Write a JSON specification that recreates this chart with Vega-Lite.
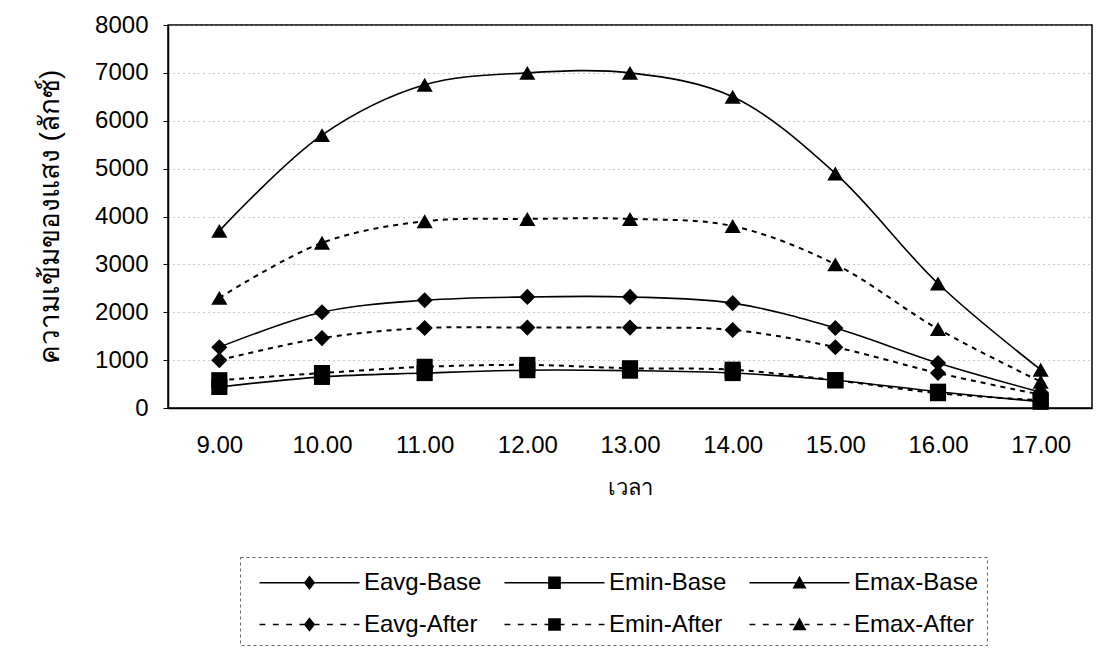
{
  "$schema": "https://vega.github.io/schema/vega-lite/v6.json",
  "width": 924,
  "height": 383,
  "autosize": {"type": "none"},
  "padding": {"left": 168, "top": 25, "right": 5, "bottom": 246},
  "background": "white",
  "config": {
    "view": {"stroke": "black", "strokeWidth": 1.5},
    "font": "Liberation Sans",
    "axis": {"labelFont": "Liberation Sans", "titleFont": "Liberation Sans", "labelColor": "black", "titleColor": "black", "domainColor": "black", "tickColor": "black", "titleFontWeight": "normal"},
    "legend": {"strokeDash": [3, 3]}
  },
  "data": {
    "values": [
      {"time": "9.00", "series": "Eavg-Base", "value": 1270},
      {"time": "10.00", "series": "Eavg-Base", "value": 2000},
      {"time": "11.00", "series": "Eavg-Base", "value": 2250},
      {"time": "12.00", "series": "Eavg-Base", "value": 2320},
      {"time": "13.00", "series": "Eavg-Base", "value": 2320},
      {"time": "14.00", "series": "Eavg-Base", "value": 2190},
      {"time": "15.00", "series": "Eavg-Base", "value": 1670},
      {"time": "16.00", "series": "Eavg-Base", "value": 940},
      {"time": "17.00", "series": "Eavg-Base", "value": 330},
      {"time": "9.00", "series": "Emin-Base", "value": 440},
      {"time": "10.00", "series": "Emin-Base", "value": 650},
      {"time": "11.00", "series": "Emin-Base", "value": 730},
      {"time": "12.00", "series": "Emin-Base", "value": 790},
      {"time": "13.00", "series": "Emin-Base", "value": 780},
      {"time": "14.00", "series": "Emin-Base", "value": 730},
      {"time": "15.00", "series": "Emin-Base", "value": 580},
      {"time": "16.00", "series": "Emin-Base", "value": 340},
      {"time": "17.00", "series": "Emin-Base", "value": 130},
      {"time": "9.00", "series": "Emax-Base", "value": 3700},
      {"time": "10.00", "series": "Emax-Base", "value": 5700},
      {"time": "11.00", "series": "Emax-Base", "value": 6750},
      {"time": "12.00", "series": "Emax-Base", "value": 7000},
      {"time": "13.00", "series": "Emax-Base", "value": 7000},
      {"time": "14.00", "series": "Emax-Base", "value": 6500},
      {"time": "15.00", "series": "Emax-Base", "value": 4900},
      {"time": "16.00", "series": "Emax-Base", "value": 2600},
      {"time": "17.00", "series": "Emax-Base", "value": 800},
      {"time": "9.00", "series": "Eavg-After", "value": 1000},
      {"time": "10.00", "series": "Eavg-After", "value": 1460},
      {"time": "11.00", "series": "Eavg-After", "value": 1670},
      {"time": "12.00", "series": "Eavg-After", "value": 1680},
      {"time": "13.00", "series": "Eavg-After", "value": 1680},
      {"time": "14.00", "series": "Eavg-After", "value": 1630},
      {"time": "15.00", "series": "Eavg-After", "value": 1270},
      {"time": "16.00", "series": "Eavg-After", "value": 730},
      {"time": "17.00", "series": "Eavg-After", "value": 280},
      {"time": "9.00", "series": "Emin-After", "value": 580},
      {"time": "10.00", "series": "Emin-After", "value": 730},
      {"time": "11.00", "series": "Emin-After", "value": 860},
      {"time": "12.00", "series": "Emin-After", "value": 900},
      {"time": "13.00", "series": "Emin-After", "value": 830},
      {"time": "14.00", "series": "Emin-After", "value": 800},
      {"time": "15.00", "series": "Emin-After", "value": 580},
      {"time": "16.00", "series": "Emin-After", "value": 310},
      {"time": "17.00", "series": "Emin-After", "value": 160},
      {"time": "9.00", "series": "Emax-After", "value": 2300},
      {"time": "10.00", "series": "Emax-After", "value": 3450},
      {"time": "11.00", "series": "Emax-After", "value": 3900},
      {"time": "12.00", "series": "Emax-After", "value": 3950},
      {"time": "13.00", "series": "Emax-After", "value": 3950},
      {"time": "14.00", "series": "Emax-After", "value": 3800},
      {"time": "15.00", "series": "Emax-After", "value": 3000},
      {"time": "16.00", "series": "Emax-After", "value": 1650},
      {"time": "17.00", "series": "Emax-After", "value": 550}
    ]
  },
  "encoding": {
    "x": {
      "field": "time", "type": "ordinal",
      "sort": ["9.00","10.00","11.00","12.00","13.00","14.00","15.00","16.00","17.00"],
      "scale": {"type": "point", "padding": 0.5},
      "axis": {"title": "เวลา", "labelAngle": 0, "labelFontSize": 24, "labelPadding": 25, "ticks": false, "titleFontSize": 22, "titlePadding": 20, "domainWidth": 1.5, "grid": false}
    },
    "y": {
      "field": "value", "type": "quantitative",
      "scale": {"domain": [0, 8000], "nice": false},
      "axis": {"title": "ความเข้มของแสง (ลักซ์)", "values": [0,1000,2000,3000,4000,5000,6000,7000,8000], "format": "d", "labelFontSize": 24, "labelPadding": 15, "tickSize": 5, "titleFontSize": 28, "titlePadding": 30, "grid": true, "gridColor": "#999", "gridDash": [1, 4], "gridWidth": 1, "domainWidth": 1.5}
    }
  },
  "resolve": {"scale": {"shape": "independent"}, "legend": {"shape": "independent"}},
  "layer": [
    {
      "transform": [{"filter": "indexof(datum.series, 'Base') >= 0"}],
      "mark": {"type": "line", "interpolate": "catmull-rom", "color": "black", "strokeWidth": 1.6},
      "encoding": {"detail": {"field": "series"}}
    },
    {
      "transform": [{"filter": "indexof(datum.series, 'After') >= 0"}],
      "mark": {"type": "line", "interpolate": "catmull-rom", "color": "black", "strokeWidth": 2, "strokeDash": [5, 5]},
      "encoding": {"detail": {"field": "series"}}
    },
    {
      "mark": {"type": "point", "filled": true, "color": "black", "opacity": 1, "size": 260},
      "encoding": {
        "shape": {
          "field": "series", "type": "nominal",
          "scale": {"domain": ["Eavg-Base","Emin-Base","Emax-Base","Eavg-After","Emin-After","Emax-After"], "range": ["diamond","square","triangle-up","diamond","square","triangle-up"]},
          "legend": null
        }
      }
    },
    {
      "mark": {"type": "point", "filled": true, "fill": "black", "stroke": "black", "strokeWidth": 1.5, "size": 0},
      "encoding": {
        "shape": {
          "field": "series", "type": "nominal",
          "scale": {"domain": ["Eavg-Base","Emin-Base","Emax-Base","Eavg-After","Emin-After","Emax-After"],
            "range": [
              "M-3,-0.05H3V0.05H-3ZM0,-0.44L0.34,0L0,0.44L-0.34,0Z",
              "M-3,-0.05H3V0.05H-3ZM-0.38,-0.38H0.38V0.38H-0.38Z",
              "M-3,-0.05H3V0.05H-3ZM0,-0.42L0.42,0.34H-0.42Z",
              "M-3,-0.05H-2.65V0.05H-3ZM-2.2,-0.05H-1.85V0.05H-2.2ZM-1.4,-0.05H-1.05V0.05H-1.4ZM-0.6,-0.05H-0.3V0.05H-0.6ZM0.3,-0.05H0.6V0.05H0.3ZM1.05,-0.05H1.4V0.05H1.05ZM1.85,-0.05H2.2V0.05H1.85ZM2.65,-0.05H3V0.05H2.65ZM0,-0.44L0.34,0L0,0.44L-0.34,0Z",
              "M-3,-0.05H-2.65V0.05H-3ZM-2.2,-0.05H-1.85V0.05H-2.2ZM-1.4,-0.05H-1.05V0.05H-1.4ZM-0.6,-0.05H-0.3V0.05H-0.6ZM0.3,-0.05H0.6V0.05H0.3ZM1.05,-0.05H1.4V0.05H1.05ZM1.85,-0.05H2.2V0.05H1.85ZM2.65,-0.05H3V0.05H2.65ZM-0.38,-0.38H0.38V0.38H-0.38Z",
              "M-3,-0.05H-2.65V0.05H-3ZM-2.2,-0.05H-1.85V0.05H-2.2ZM-1.4,-0.05H-1.05V0.05H-1.4ZM-0.6,-0.05H-0.3V0.05H-0.6ZM0.3,-0.05H0.6V0.05H0.3ZM1.05,-0.05H1.4V0.05H1.05ZM1.85,-0.05H2.2V0.05H1.85ZM2.65,-0.05H3V0.05H2.65ZM0,-0.42L0.42,0.34H-0.42Z"
            ]},
          "legend": {
            "title": null,
            "orient": "none",
            "legendX": 72,
            "legendY": 532,
            "direction": "horizontal",
            "columns": 3,
            "gridAlign": "all",
            "labelFont": "Liberation Sans",
            "labelFontSize": 24,
            "labelColor": "black",
            "symbolSize": 1111,
            "symbolOffset": 44,
            "labelOffset": 37,
            "columnPadding": 4,
            "rowPadding": 12,
            "padding": 8,
            "strokeColor": "#666",
            "labelLimit": 300,
            "symbolOpacity": 1,
            "symbolFillColor": "black",
            "symbolStrokeColor": "black",
            "symbolStrokeWidth": 1.5
          }
        }
      }
    }
  ]
}
